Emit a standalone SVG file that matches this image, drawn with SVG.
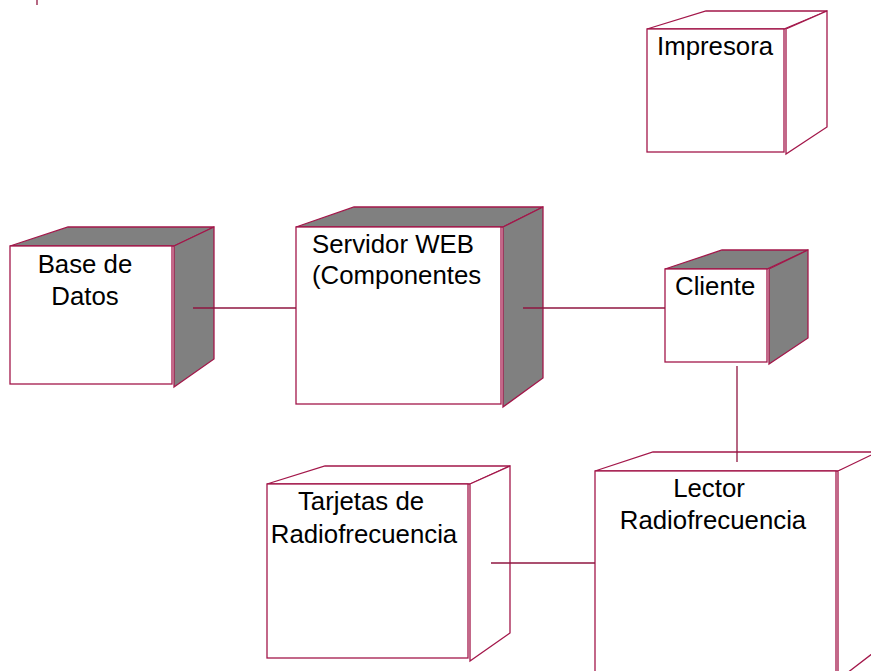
<svg xmlns="http://www.w3.org/2000/svg" width="871" height="671" viewBox="0 0 871 671">
  <style>
    .face { fill: #ffffff; stroke: #a3174a; stroke-width: 1.3; stroke-linejoin: miter; }
    .shade { fill: #808080; stroke: #a3174a; stroke-width: 1.3; }
    .front { fill: #ffffff; stroke: #a3174a; stroke-width: 1.3; }
    .link { stroke: #8f1640; stroke-width: 1.3; fill: none; }
    .lbl { font-family: "Liberation Sans", Arial, sans-serif; font-size: 25.8px; fill: #000000; }
    .mid { text-anchor: middle; }
  </style>
  <rect width="871" height="671" fill="#ffffff"/>

  <!-- small tick at top left -->
  <line x1="37" y1="0" x2="37" y2="5" class="link"/>

  <g id="impresora">
    <polygon class="face" points="647,29 706,11 827,11 784,29"/>
    <polygon class="face" points="786,29 827,11 827,127 786,154"/>
    <rect class="front" x="647" y="29" width="137" height="123"/>
    <text class="lbl" x="657" y="55">Impresora</text>
  </g>

  <g id="base-datos">
    <polygon class="shade" points="10,246 68,227 214,227 174,246"/>
    <polygon class="shade" points="174,246 214,227 214,359 174,387"/>
    <rect class="front" x="10" y="246" width="162" height="138"/>
    <text class="lbl mid" x="85" y="273">Base de</text>
    <text class="lbl mid" x="85" y="305">Datos</text>
  </g>

  <g id="servidor-web">
    <polygon class="shade" points="296,227 354,207 543,207 503,227"/>
    <polygon class="shade" points="503,227 543,207 543,378 503,407"/>
    <rect class="front" x="296" y="227" width="205" height="177"/>
    <text class="lbl" x="312" y="253">Servidor WEB</text>
    <text class="lbl" x="312" y="284">(Componentes</text>
  </g>

  <g id="cliente">
    <polygon class="shade" points="665,269 722,250 808,250 767,269"/>
    <polygon class="shade" points="769,269 808,250 808,338 769,364"/>
    <rect class="front" x="665" y="269" width="102" height="93"/>
    <text class="lbl" x="675" y="295">Cliente</text>
  </g>

  <g id="tarjetas">
    <polygon class="face" points="267,484 325,466 510,466 470,484"/>
    <polygon class="face" points="470,484 510,466 510,633 470,661"/>
    <rect class="front" x="267" y="484" width="201" height="174"/>
    <text class="lbl mid" x="361" y="510">Tarjetas de</text>
    <text class="lbl mid" x="364" y="543">Radiofrecuencia</text>
  </g>

  <g id="lector">
    <polygon class="face" points="595,471 653,452 890,452 838,471"/>
    <polygon class="face" points="838,471 890,446 890,640 838,680"/>
    <rect class="front" x="595" y="471" width="241" height="215"/>
    <text class="lbl mid" x="709" y="497">Lector</text>
    <text class="lbl mid" x="713" y="529">Radiofrecuencia</text>
  </g>

  <!-- connectors, drawn over the node bodies -->
  <g id="connectors">
    <line x1="193" y1="308" x2="296" y2="308" class="link"/>
    <line x1="523" y1="308" x2="665" y2="308" class="link"/>
    <line x1="737" y1="366" x2="737" y2="462" class="link"/>
    <line x1="491" y1="563" x2="595" y2="563" class="link"/>
  </g>
</svg>
